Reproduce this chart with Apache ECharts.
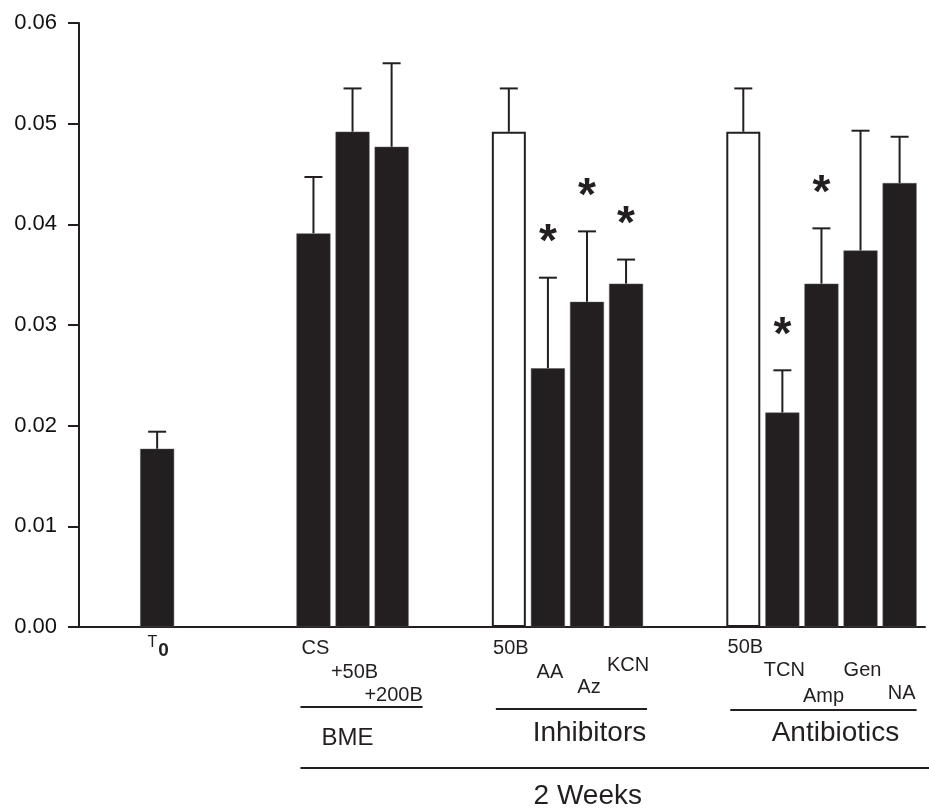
<!DOCTYPE html>
<html lang="en">

<head>
    <meta charset="UTF-8" />
    <title>Bar chart</title>
    <script src="https://cdn.jsdelivr.net/npm/echarts@6/dist/echarts.min.js"></script>
    <style>
        body { margin: 0; background: #fff; }
    </style>
</head>

<body>
    <div id="main" style="width: 929px; height: 812px;"></div>

    <script>
        // slot index on the x axis (empty slots separate the groups)
        const slots = [0, 4, 5, 6, 9, 10, 11, 12, 15, 16, 17, 18, 19];
        const labels = ['T0', 'CS', '+50B', '+200B', '50B', 'AA', 'Az', 'KCN', '50B', 'TCN', 'Amp', 'Gen', 'NA'];
        const means = [0.0177, 0.0391, 0.0492, 0.0477, 0.0492, 0.0257, 0.0323, 0.0341, 0.0492, 0.0213, 0.0341, 0.0374, 0.0441];
        const errors = [0.0017, 0.0056, 0.0043, 0.0083, 0.0043, 0.0090, 0.0070, 0.0024, 0.0043, 0.0042, 0.0055, 0.0119, 0.0046];
        const isControl = [0, 0, 0, 0, 1, 0, 0, 0, 1, 0, 0, 0, 0];
        const significant = [0, 0, 0, 0, 0, 1, 1, 1, 0, 1, 1, 0, 0];
        const yTicks = [0, 0.01, 0.02, 0.03, 0.04, 0.05, 0.06];

        const groups = [
            { name: 'BME', from: 1, to: 3 },
            { name: 'Inhibitors', from: 4, to: 7 },
            { name: 'Antibiotics', from: 8, to: 12 }
        ];
        const periodLabel = '2 Weeks';

        // layout: how far below the axis each bar label sits (staggered rows)
        const labelDrop = [20, 21, 45, 68, 21, 45, 60, 38, 20, 43, 69, 43, 66];

        const ink = '#231f20';
        const font = 'Liberation Sans, Arial, Helvetica, sans-serif';

        const myChart = echarts.init(document.getElementById('main'));

        const options = {
            animation: false,
            grid: { left: 79, right: 4, top: 23, bottom: 185, containLabel: false },
            xAxis: {
                type: 'value',
                min: -2,
                max: 19.65,
                axisLine: { show: true, onZero: false, lineStyle: { color: ink, width: 2 } },
                axisTick: { show: false },
                axisLabel: { show: false },
                splitLine: { show: false }
            },
            yAxis: {
                type: 'value',
                min: yTicks[0],
                max: yTicks[yTicks.length - 1],
                interval: 0.01,
                axisLine: { show: true, onZero: false, lineStyle: { color: ink, width: 2 } },
                axisTick: { show: true, length: 11, lineStyle: { color: ink, width: 2 } },
                axisLabel: {
                    margin: 22,
                    color: '#111',
                    fontFamily: font,
                    fontSize: 22,
                    formatter: v => v.toFixed(2)
                },
                splitLine: { show: false }
            },
            series: [
                {
                    type: 'bar',
                    barWidth: 34,
                    data: slots.map((s, i) => ({
                        value: [s, means[i]],
                        itemStyle: isControl[i]
                            ? { color: '#fff', borderColor: ink, borderWidth: 2 }
                            : { color: ink, borderColor: '#555', borderWidth: 0.5 }
                    }))
                },
                {
                    type: 'custom',
                    data: slots.map((s, i) => [s, means[i], means[i] + errors[i], significant[i]]),
                    renderItem: (params, api) => {
                        const base = api.coord([api.value(0), api.value(1)]);
                        const top = api.coord([api.value(0), api.value(2)]);
                        const half = 9;
                        const children = [
                            {
                                type: 'line',
                                shape: { x1: base[0], y1: base[1], x2: top[0], y2: top[1] },
                                style: { stroke: ink, lineWidth: 2 }
                            },
                            {
                                type: 'line',
                                shape: { x1: top[0] - half, y1: top[1], x2: top[0] + half, y2: top[1] },
                                style: { stroke: ink, lineWidth: 2 }
                            }
                        ];
                        if (api.value(3)) {
                            children.push({
                                type: 'text',
                                x: top[0],
                                y: top[1] - 34,
                                style: {
                                    text: '*',
                                    fontFamily: font,
                                    fontWeight: 'bold',
                                    fontSize: 46,
                                    fill: ink,
                                    align: 'center',
                                    verticalAlign: 'middle'
                                }
                            });
                        }
                        return { type: 'group', children: children };
                    }
                }
            ]
        };

        myChart.setOption(options);

        // labels and group brackets below the axis
        const px = (x, y) => myChart.convertToPixel({ gridIndex: 0 }, [x, y]);
        const baseY = px(0, 0)[1];
        const graphics = [];

        slots.forEach((s, i) => {
            const p = px(s, 0);
            if (labels[i] === 'T0') {
                graphics.push({
                    type: 'text', x: p[0] + 1, y: baseY + labelDrop[i],
                    style: {
                        text: '{t|T}{s|0}',
                        align: 'center', verticalAlign: 'middle',
                        rich: {
                            t: { fontFamily: font, fontSize: 16, fill: ink, padding: [0, 0, 8, 0] },
                            s: { fontFamily: font, fontSize: 19, fontWeight: 'bold', fill: ink, padding: [8, 0, 0, 1] }
                        }
                    }
                });
                return;
            }
            graphics.push({
                type: 'text', x: p[0] + 2, y: baseY + labelDrop[i],
                style: {
                    text: labels[i], fontFamily: font, fontSize: 20, fill: ink,
                    align: 'center', verticalAlign: 'middle'
                }
            });
        });

        const lineDrop = [80, 82, 83];
        const rightPad = [31, 21, 17];
        const textDrop = [111, 106, 106];
        const textShift = [-14, 18, 12];
        const textSize = [24, 28, 28];
        groups.forEach((g, k) => {
            const a = px(slots[g.from], 0)[0];
            const b = px(slots[g.to], 0)[0];
            const left = a - 13;
            const right = b + rightPad[k];
            graphics.push({
                type: 'line',
                shape: { x1: left, y1: baseY + lineDrop[k], x2: right, y2: baseY + lineDrop[k] },
                style: { stroke: ink, lineWidth: 2 }
            });
            graphics.push({
                type: 'text', x: (left + right) / 2 + textShift[k], y: baseY + textDrop[k],
                style: {
                    text: g.name, fontFamily: font, fontSize: textSize[k], fill: ink,
                    align: 'center', verticalAlign: 'middle'
                }
            });
        });

        const longLeft = px(slots[groups[0].from], 0)[0] - 13;
        graphics.push({
            type: 'line',
            shape: { x1: longLeft, y1: baseY + 141, x2: 929, y2: baseY + 141 },
            style: { stroke: ink, lineWidth: 2 }
        });
        graphics.push({
            type: 'text', x: px(11.02, 0)[0], y: baseY + 169,
            style: {
                text: periodLabel, fontFamily: font, fontSize: 28, fill: ink,
                align: 'center', verticalAlign: 'middle'
            }
        });

        myChart.setOption({ graphic: graphics });
    </script>
</body>

</html>
